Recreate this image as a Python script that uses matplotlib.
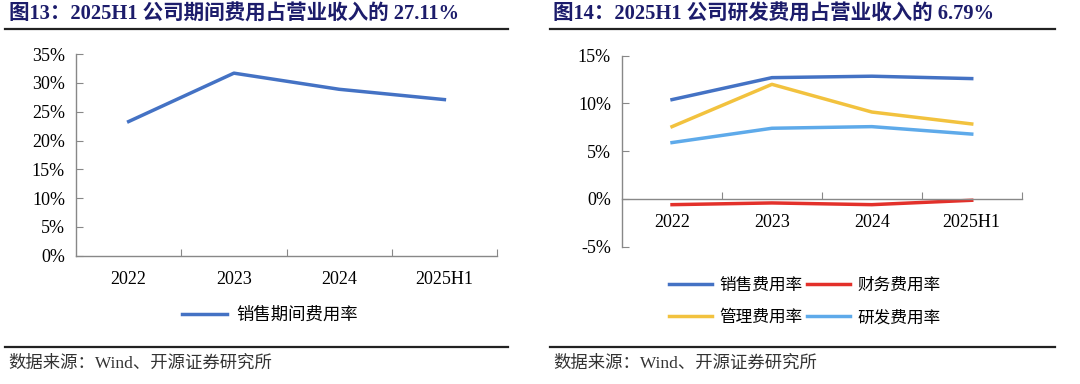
import numpy as np
import matplotlib.pyplot as plt
from matplotlib.lines import Line2D

categories = ['2022', '2023', '2024', '2025H1']
period_rate = [23.3, 31.7, 28.9, 27.11]
sales_rate = [10.4, 12.7, 12.85, 12.6]
finance_rate = [-0.6, -0.42, -0.6, -0.14]
admin_rate = [7.57, 12.0, 9.1, 7.85]
rd_rate = [5.9, 7.4, 7.57, 6.79]

left_title = '图13：2025H1 公司期间费用占营业收入的 27.11%'
right_title = '图14：2025H1 公司研发费用占营业收入的 6.79%'
source = '数据来源：Wind、开源证券研究所'

fam = ['Liberation Serif', 'Noto Sans CJK SC']
plt.rcParams['font.family'] = fam

title_color = '#1c1c6b'
spine_color = '#888888'
c_blue = '#4472c4'
c_red = '#e3302a'
c_yellow = '#f2c23e'
c_light = '#5eaaea'

fig = plt.figure(figsize=(10.8, 3.84), dpi=100)

# titles, rules, sources
for x0, x1, t in [(0.005, 0.470, left_title), (0.509, 0.977, right_title)]:
    fig.text(x0 + 0.003, 0.963, t, fontsize=14.8, fontweight='bold',
             color=title_color, va='center', ha='left')
    fig.add_artist(Line2D([x0, x1], [0.924, 0.924], color='#222222', lw=1.6))
    fig.add_artist(Line2D([x0, x1], [0.096, 0.096], color='#222222', lw=1.6))
    fig.text(x0 + 0.003, 0.052, source, fontsize=12.5, color='#333333',
             va='center', ha='left')

x = np.arange(len(categories))


def style_axes(ax, pad):
    for s in ['top', 'right']:
        ax.spines[s].set_visible(False)
    for s in ['left', 'bottom']:
        ax.spines[s].set_color(spine_color)
        ax.spines[s].set_linewidth(1.0)
    ax.set_xlim(-0.5, 3.5)
    ax.set_xticks([0.5, 1.5, 2.5, 3.5])
    ax.set_xticklabels([])
    ax.set_xticks(x, minor=True)
    ax.set_xticklabels(categories, minor=True, fontsize=13)
    ax.tick_params(axis='x', which='major', direction='in', length=5,
                   color=spine_color)
    ax.tick_params(axis='x', which='minor', length=0, pad=pad)
    ax.tick_params(axis='y', direction='in', length=5, color=spine_color,
                   labelsize=13, pad=8)


# left chart
ax1 = fig.add_axes([0.0704, 0.334, 0.3898, 0.525])
ax1.plot(x, period_rate, color=c_blue, lw=2.5, label='销售期间费用率')
ax1.set_ylim(0, 35)
ax1.set_yticks(np.arange(0, 36, 5))
ax1.set_yticklabels([f'{v}%' for v in range(0, 36, 5)])
style_axes(ax1, 11)
ax1.legend(loc='center', bbox_to_anchor=(0.25, 0.177),
           bbox_transform=fig.transFigure, frameon=False,
           fontsize=12.5, handlelength=2.6, handletextpad=0.5)

# right chart
ax2 = fig.add_axes([0.576, 0.3576, 0.370, 0.4974])
ax2.spines['bottom'].set_position(('data', 0))
ax2.plot(x, sales_rate, color=c_blue, lw=2.5, label='销售费用率')
ax2.plot(x, admin_rate, color=c_yellow, lw=2.5, label='管理费用率')
ax2.plot(x, finance_rate, color=c_red, lw=2.5, label='财务费用率')
ax2.plot(x, rd_rate, color=c_light, lw=2.5, label='研发费用率')
ax2.set_ylim(-5, 15)
ax2.set_yticks(np.arange(-5, 16, 5))
ax2.set_yticklabels([f'{v}%' for v in range(-5, 16, 5)])
style_axes(ax2, 11)
ax2.legend(loc='center', bbox_to_anchor=(0.745, 0.214),
           bbox_transform=fig.transFigure, ncol=2, frameon=False,
           fontsize=12, handlelength=2.6, handletextpad=0.4,
           columnspacing=0.3, labelspacing=1.0)

fig.savefig('out.png', dpi=100)
